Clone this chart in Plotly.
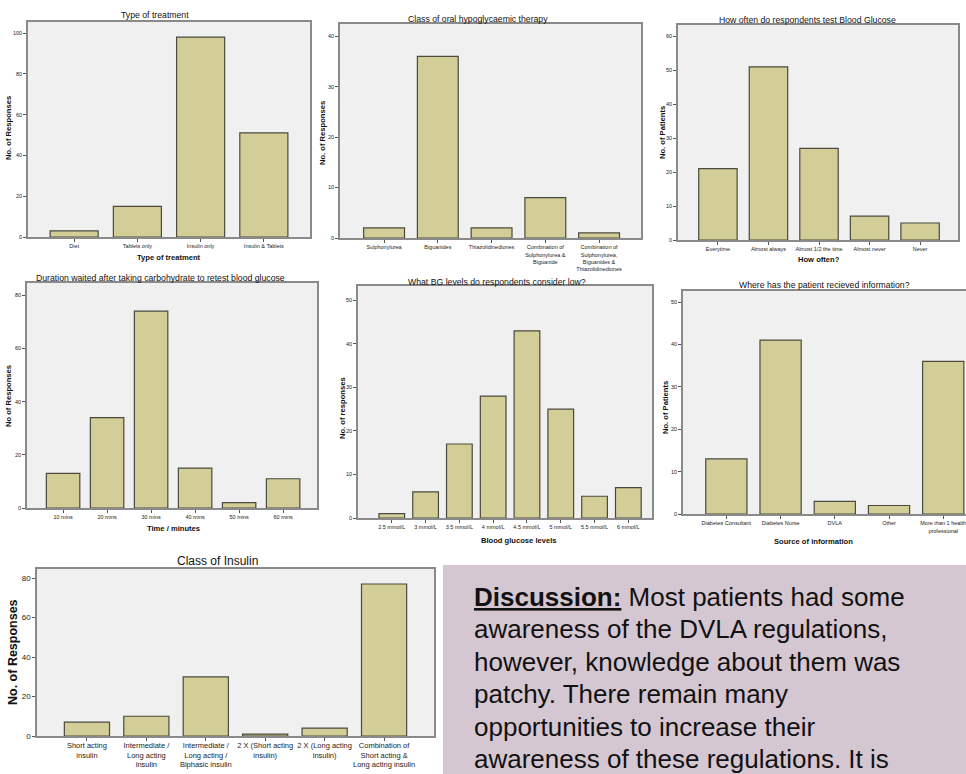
import plotly.graph_objects as go

W, H = 966, 774

# ---------------- data ----------------
treat_cats = ["Diet", "Tablets only", "Insulin only", "Insulin & Tablets"]
treat_vals = [3, 15, 98, 51]

oral_cats = ["Sulphonylurea", "Biguanides", "Thiazolidinediones",
             "Combination of<br>Sulphonylurea &<br>Biguanide",
             "Combination of<br>Sulphonylurea,<br>Biguanides &<br>Thiazolidinediones"]
oral_vals = [2, 36, 2, 8, 1]

test_cats = ["Everytime", "Almost always", "Almost 1/2 the time", "Almost never", "Never"]
test_vals = [21, 51, 27, 7, 5]

wait_cats = ["10 mins", "20 mins", "30 mins", "40 mins", "50 mins", "60 mins"]
wait_vals = [13, 34, 74, 15, 2, 11]

bg_cats = ["2.5 mmol/L", "3 mmol/L", "3.5 mmol/L", "4 mmol/L",
           "4.5 mmol/L", "5 mmol/L", "5.5 mmol/L", "6 mmol/L"]
bg_vals = [1, 6, 17, 28, 43, 25, 5, 7]

info_cats = ["Diabetes Consultant", "Diabetes Nurse", "DVLA", "Other",
             "More than 1 health<br>professional"]
info_vals = [13, 41, 3, 2, 36]

insulin_cats = ["Short acting<br>insulin", "Intermediate /<br>Long acting<br>insulin",
                "Intermediate /<br>Long acting /<br>Biphasic insulin",
                "2 X (Short acting<br>insulin)", "2 X (Long acting<br>insulin)",
                "Combination of<br>Short acting &<br>Long acting insulin"]
insulin_vals = [7, 10, 30, 1, 4, 77]

discussion_lines = [
    "<b><u>Discussion:</u></b> Most patients had some",
    "awareness of the DVLA regulations,",
    "however, knowledge about them was",
    "patchy. There remain many",
    "opportunities to increase their",
    "awareness of these regulations. It is",
]

# ---------------- styling ----------------
FONT = "Liberation Sans, Arial, sans-serif"
BAR = "rgb(211,206,152)"
BAR_LINE = "#4a4a3e"
PLOT_BG = "#f0f0f0"
FRAME = "#8a8a8a"

def px_x(x):
    return x / W

def px_y(y):
    return 1 - y / H

fig = go.Figure()

panels = [
    dict(c=treat_cats, v=treat_vals, box=(28, 22, 310, 237), yr=105.4, xr=(-0.73, 3.73), dt=20,
         t="Type of treatment", tp=(155, 15), xt="Type of treatment", xtp=(169, 257),
         yt="No. of Responses", ytp=(8, 128), small=True),
    dict(c=oral_cats, v=oral_vals, box=(340, 24, 641, 238), yr=42.4, xr=(-0.82, 4.78), dt=10,
         t="Class of oral hypoglycaemic therapy", tp=(478, 19), xt=None, xtp=None,
         yt="No. of Responses", ytp=(322, 133), small=True),
    dict(c=test_cats, v=test_vals, box=(678, 25, 958, 240), yr=63.3, xr=(-0.79, 4.75), dt=10,
         t="How often do respondents test Blood Glucose", tp=(807, 20), xt="How often?", xtp=(819, 259),
         yt="No. of Patients", ytp=(662, 133), small=True),
    dict(c=wait_cats, v=wait_vals, box=(27, 283, 317, 508), yr=84.6, xr=(-0.82, 5.77), dt=20,
         t="Duration waited after taking carbohydrate to retest blood glucose", tp=(160, 278),
         xt="Time / minutes", xtp=(173, 528), yt="No of Responses", ytp=(8, 396), small=True),
    dict(c=bg_cats, v=bg_vals, box=(358, 286, 652, 518), yr=53.3, xr=(-1.0, 7.7), dt=10,
         t="What BG levels do respondents consider low?", tp=(497, 282),
         xt="Blood glucose levels", xtp=(519, 540), yt="No. of responses", ytp=(342, 408), small=True),
    dict(c=info_cats, v=info_vals, box=(683, 291, 966, 514), yr=52.6, xr=(-0.8, 4.42), dt=10,
         t="Where has the patient recieved information?", tp=(824, 285),
         xt="Source of information", xtp=(813, 541), yt="No. of Patients", ytp=(665, 408), small=True),
    dict(c=insulin_cats, v=insulin_vals, box=(37, 569, 434, 736), yr=84.6, xr=(-0.84, 5.84), dt=20,
         t="Class of Insulin", tp=(217, 561), xt=None, xtp=None,
         yt="No. of Responses", ytp=(13, 652), small=False),
]

annotations = []
for i, p in enumerate(panels, start=1):
    sfx = "" if i == 1 else str(i)
    fig.add_trace(go.Bar(
        x=p["c"], y=p["v"], xaxis="x" + sfx, yaxis="y" + sfx,
        marker=dict(color=BAR, line=dict(color=BAR_LINE, width=1.2)),
        width=0.76, showlegend=False, hoverinfo="x+y",
    ))
    x0, y0, x1, y1 = p["box"]
    tick_fs = 5.5 if p["small"] else 7.5
    common = dict(showline=True, mirror=True, linecolor=FRAME, linewidth=1.5,
                  ticks="outside", ticklen=3, tickcolor="#555", tickwidth=1,
                  tickfont=dict(family=FONT, size=tick_fs, color="#222"),
                  showgrid=False, zeroline=False, fixedrange=True, automargin=False)
    xextra = {} if p["small"] else dict(ticklabelstandoff=-2)
    fig.layout["xaxis" + sfx] = dict(
        domain=[px_x(x0), px_x(x1)], anchor="y" + sfx, type="category",
        range=list(p["xr"]), tickangle=0, **xextra, **common)
    ycommon = dict(common)
    if not p["small"]:
        ycommon["tickfont"] = dict(family=FONT, size=8, color="#222")
    fig.layout["yaxis" + sfx] = dict(
        domain=[px_y(y1), px_y(y0)], anchor="x" + sfx,
        range=[0, p["yr"]], dtick=p["dt"], tick0=0, **ycommon)

    tfs = 8.7 if p["small"] else 12
    annotations.append(dict(text=p["t"], x=px_x(p["tp"][0]), y=px_y(p["tp"][1]),
                            xref="paper", yref="paper", showarrow=False,
                            xanchor="center", yanchor="middle",
                            font=dict(family=FONT, size=tfs, color="#111")))
    afs = 7.6 if p["small"] else 12.5
    if p["xt"]:
        annotations.append(dict(text="<b>" + p["xt"] + "</b>", x=px_x(p["xtp"][0]), y=px_y(p["xtp"][1]),
                                xref="paper", yref="paper", showarrow=False,
                                xanchor="center", yanchor="middle",
                                font=dict(family=FONT, size=afs, color="#111")))
    annotations.append(dict(text="<b>" + p["yt"] + "</b>", x=px_x(p["ytp"][0]), y=px_y(p["ytp"][1]),
                            xref="paper", yref="paper", showarrow=False, textangle=-90,
                            xanchor="center", yanchor="middle",
                            font=dict(family=FONT, size=afs, color="#111")))

# discussion text box: one annotation per line
for k, line in enumerate(discussion_lines):
    annotations.append(dict(text=line, x=px_x(472), y=px_y(597 + 32.4 * k),
                            xref="paper", yref="paper", showarrow=False,
                            xanchor="left", yanchor="middle", align="left",
                            font=dict(family=FONT, size=26, color="#111")))

fig.update_layout(
    width=W, height=H, margin=dict(l=0, r=0, t=0, b=0, autoexpand=False),
    paper_bgcolor="white", plot_bgcolor=PLOT_BG,
    bargap=0.24, annotations=annotations,
    shapes=[dict(type="rect", xref="paper", yref="paper",
                 x0=px_x(443), x1=1, y0=0, y1=px_y(565),
                 fillcolor="rgb(213,199,209)", line=dict(width=0), layer="below")],
)

fig.write_html("out.html", config={"displayModeBar": False},
               post_script="document.body.style.margin='0';document.body.style.overflow='hidden';")
